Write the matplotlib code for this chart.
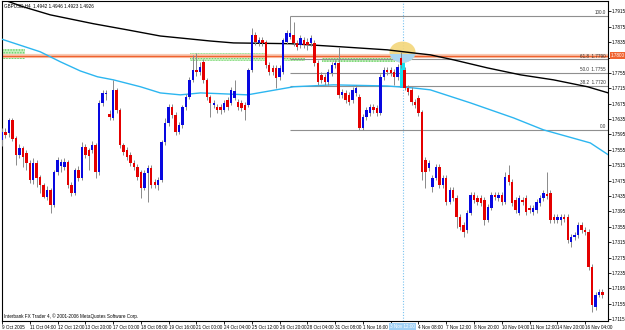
import numpy as np
import matplotlib.pyplot as plt
import matplotlib.transforms as mtransforms
from matplotlib.patches import Rectangle, Ellipse

plt.rcParams['hatch.linewidth'] = 0.6
plt.rcParams['font.family'] = ['Liberation Sans', 'DejaVu Sans']

# GBPUSD H4 candles, 9 Oct - 16 Nov 2005
opens = [1.7581, 1.7602, 1.7599, 1.7633, 1.7586, 1.7542, 1.7560, 1.7547, 1.7521, 1.7477,
         1.7521, 1.7485, 1.7464, 1.7433, 1.7451, 1.7412, 1.7498, 1.7513, 1.7511, 1.7524,
         1.7464, 1.7443, 1.7503, 1.7482, 1.7563, 1.7555, 1.7555, 1.7568, 1.7498, 1.7677,
         1.7701, 1.7649, 1.7638, 1.7711, 1.7659, 1.7568, 1.7555, 1.7542, 1.7521, 1.7511,
         1.7498, 1.7456, 1.7495, 1.7508, 1.7472, 1.7464, 1.7477, 1.7576, 1.7625, 1.7667,
         1.7646, 1.7602, 1.7620, 1.7667, 1.7693, 1.7737, 1.7763, 1.7758, 1.7784, 1.7737,
         1.7693, 1.7672, 1.7667, 1.7667, 1.7659, 1.7685, 1.7677, 1.7690, 1.7680, 1.7677,
         1.7672, 1.7672, 1.7763, 1.7854, 1.7833, 1.7841, 1.7836, 1.7776, 1.7768, 1.7768,
         1.7745, 1.7758, 1.7836, 1.7849, 1.7854, 1.7833, 1.7828, 1.7841, 1.7836, 1.7833,
         1.7833, 1.7781, 1.7750, 1.7745, 1.7732, 1.7755, 1.7776, 1.7781, 1.7698, 1.7703,
         1.7698, 1.7685, 1.7703, 1.7693, 1.7612, 1.7641, 1.7651, 1.7667, 1.7664, 1.7651,
         1.7745, 1.7763, 1.7763, 1.7758, 1.7745, 1.7794, 1.7763, 1.7716, 1.7711, 1.7680,
         1.7690, 1.7654, 1.7529, 1.7508, 1.7459, 1.7482, 1.7511, 1.7464, 1.7482, 1.7420,
         1.7451, 1.7430, 1.7381, 1.7360, 1.7347, 1.7391, 1.7438, 1.7430, 1.7430, 1.7425,
         1.7373, 1.7404, 1.7438, 1.7430, 1.7438, 1.7420, 1.7490, 1.7472, 1.7425, 1.7391,
         1.7425, 1.7430, 1.7404, 1.7394, 1.7399, 1.7417, 1.7430, 1.7441, 1.7443, 1.7381,
         1.7373, 1.7373, 1.7381, 1.7381, 1.7316, 1.7329, 1.7334, 1.7360, 1.7347, 1.7342,
         1.7251, 1.7147, 1.7178, 1.7186]
closes = [1.7602, 1.7594, 1.7633, 1.7584, 1.7542, 1.7560, 1.7537, 1.7521, 1.7477, 1.7521,
          1.7482, 1.7464, 1.7433, 1.7451, 1.7412, 1.7498, 1.7529, 1.7524, 1.7524, 1.7464,
          1.7443, 1.7503, 1.7482, 1.7563, 1.7542, 1.7539, 1.7568, 1.7498, 1.7677, 1.7703,
          1.7703, 1.7641, 1.7711, 1.7659, 1.7568, 1.7550, 1.7537, 1.7521, 1.7511, 1.7485,
          1.7456, 1.7495, 1.7508, 1.7464, 1.7464, 1.7477, 1.7576, 1.7625, 1.7667, 1.7646,
          1.7602, 1.7620, 1.7667, 1.7693, 1.7737, 1.7763, 1.7758, 1.7771, 1.7737, 1.7693,
          1.7677, 1.7677, 1.7659, 1.7659, 1.7677, 1.7667, 1.7711, 1.7708, 1.7667, 1.7664,
          1.7659, 1.7763, 1.7854, 1.7836, 1.7841, 1.7833, 1.7776, 1.7758, 1.7758, 1.7742,
          1.7768, 1.7841, 1.7859, 1.7859, 1.7833, 1.7823, 1.7846, 1.7828, 1.7828, 1.7846,
          1.7781, 1.7732, 1.7737, 1.7732, 1.7758, 1.7776, 1.7781, 1.7698, 1.7706, 1.7685,
          1.7680, 1.7711, 1.7716, 1.7612, 1.7641, 1.7659, 1.7667, 1.7659, 1.7651, 1.7745,
          1.7763, 1.7758, 1.7755, 1.7745, 1.7771, 1.7776, 1.7716, 1.7706, 1.7680, 1.7672,
          1.7651, 1.7498, 1.7498, 1.7521, 1.7482, 1.7511, 1.7464, 1.7482, 1.7420, 1.7451,
          1.7430, 1.7381, 1.7355, 1.7342, 1.7391, 1.7438, 1.7425, 1.7420, 1.7417, 1.7373,
          1.7407, 1.7438, 1.7433, 1.7438, 1.7420, 1.7485, 1.7472, 1.7417, 1.7399, 1.7430,
          1.7420, 1.7394, 1.7399, 1.7404, 1.7420, 1.7430, 1.7443, 1.7435, 1.7373, 1.7373,
          1.7381, 1.7381, 1.7376, 1.7321, 1.7329, 1.7334, 1.7360, 1.7347, 1.7342, 1.7251,
          1.7152, 1.7178, 1.7186, 1.7178]
highs = [1.7612, 1.7612, 1.7638, 1.7638, 1.7591, 1.7571, 1.7565, 1.7555, 1.7529, 1.7534,
         1.7529, 1.7490, 1.7469, 1.7461, 1.7456, 1.7503, 1.7537, 1.7532, 1.7534, 1.7529,
         1.7472, 1.7508, 1.7513, 1.7576, 1.7571, 1.7560, 1.7578, 1.7573, 1.7685, 1.7711,
         1.7711, 1.7659, 1.7737, 1.7716, 1.7664, 1.7573, 1.7563, 1.7550, 1.7529, 1.7519,
         1.7503, 1.7503, 1.7516, 1.7516, 1.7480, 1.7485, 1.7581, 1.7638, 1.7675, 1.7675,
         1.7654, 1.7628, 1.7672, 1.7701, 1.7745, 1.7802, 1.7807, 1.7784, 1.7792, 1.7742,
         1.7698, 1.7685, 1.7675, 1.7675, 1.7685, 1.7693, 1.7719, 1.7737, 1.7688, 1.7685,
         1.7680, 1.7768, 1.7872, 1.7862, 1.7849, 1.7849, 1.7841, 1.7784, 1.7776, 1.7776,
         1.7776, 1.7846, 1.7867, 1.7903, 1.7888, 1.7841, 1.7854, 1.7849, 1.7846, 1.7854,
         1.7841, 1.7789, 1.7758, 1.7753, 1.7766, 1.7784, 1.7789, 1.7823, 1.7714, 1.7711,
         1.7706, 1.7719, 1.7724, 1.7701, 1.7649, 1.7667, 1.7675, 1.7675, 1.7672, 1.7753,
         1.7771, 1.7771, 1.7771, 1.7766, 1.7779, 1.7810, 1.7771, 1.7724, 1.7719, 1.7688,
         1.7698, 1.7659, 1.7537, 1.7529, 1.7490, 1.7519, 1.7519, 1.7490, 1.7490, 1.7459,
         1.7459, 1.7438, 1.7389, 1.7368, 1.7399, 1.7446, 1.7446, 1.7438, 1.7438, 1.7433,
         1.7415, 1.7446, 1.7446, 1.7446, 1.7446, 1.7498, 1.7516, 1.7480, 1.7433, 1.7438,
         1.7433, 1.7438, 1.7412, 1.7412, 1.7428, 1.7438, 1.7451, 1.7498, 1.7451, 1.7389,
         1.7389, 1.7389, 1.7389, 1.7389, 1.7337, 1.7342, 1.7368, 1.7368, 1.7355, 1.7350,
         1.7259, 1.7186, 1.7194, 1.7194]
lows = [1.7565, 1.7586, 1.7589, 1.7578, 1.7516, 1.7534, 1.7511, 1.7503, 1.7469, 1.7467,
        1.7459, 1.7443, 1.7430, 1.7425, 1.7391, 1.7407, 1.7490, 1.7498, 1.7503, 1.7456,
        1.7435, 1.7438, 1.7474, 1.7477, 1.7534, 1.7503, 1.7547, 1.7482, 1.7490, 1.7669,
        1.7685, 1.7633, 1.7633, 1.7651, 1.7560, 1.7542, 1.7529, 1.7513, 1.7503, 1.7477,
        1.7430, 1.7451, 1.7420, 1.7456, 1.7456, 1.7451, 1.7472, 1.7568, 1.7617, 1.7638,
        1.7594, 1.7597, 1.7612, 1.7659, 1.7688, 1.7732, 1.7747, 1.7750, 1.7729, 1.7685,
        1.7641, 1.7664, 1.7651, 1.7649, 1.7654, 1.7659, 1.7672, 1.7685, 1.7659, 1.7656,
        1.7633, 1.7667, 1.7758, 1.7828, 1.7825, 1.7825, 1.7768, 1.7750, 1.7750, 1.7716,
        1.7737, 1.7753, 1.7831, 1.7844, 1.7825, 1.7815, 1.7820, 1.7820, 1.7815, 1.7825,
        1.7773, 1.7724, 1.7729, 1.7724, 1.7724, 1.7747, 1.7768, 1.7690, 1.7690, 1.7677,
        1.7672, 1.7677, 1.7695, 1.7607, 1.7607, 1.7633, 1.7643, 1.7651, 1.7643, 1.7646,
        1.7737, 1.7750, 1.7747, 1.7724, 1.7737, 1.7768, 1.7711, 1.7698, 1.7672, 1.7664,
        1.7643, 1.7477, 1.7456, 1.7500, 1.7446, 1.7477, 1.7456, 1.7456, 1.7412, 1.7415,
        1.7422, 1.7352, 1.7347, 1.7329, 1.7339, 1.7386, 1.7417, 1.7412, 1.7409, 1.7360,
        1.7368, 1.7399, 1.7425, 1.7422, 1.7412, 1.7415, 1.7464, 1.7409, 1.7391, 1.7386,
        1.7412, 1.7386, 1.7391, 1.7386, 1.7391, 1.7409, 1.7422, 1.7428, 1.7365, 1.7365,
        1.7365, 1.7360, 1.7368, 1.7313, 1.7303, 1.7321, 1.7326, 1.7339, 1.7334, 1.7243,
        1.7134, 1.7139, 1.7173, 1.7170]

# moving averages (bar index, price) read at intervals
ma_slow_x = [-0.5, 6.1, 13.9, 26.3, 36.1, 45.6, 53.4, 60.0, 66.7, 83.1, 97.5, 111.0,
             118.5, 123.4, 130.1, 139.9, 149.4, 158.9, 168.7, 174.7]
ma_slow_y = [1.7948, 1.7927, 1.7906, 1.7883, 1.7867, 1.7851, 1.7844, 1.7838, 1.7833, 1.7831,
             1.7823, 1.7815, 1.7807, 1.7802, 1.7789, 1.7768, 1.7750, 1.7737, 1.7719, 1.7703]
ma_fast_x = [-0.5, 11.0, 16.8, 22.6, 27.5, 32.1, 39.9, 45.6, 51.4, 57.2, 62.9, 70.7, 84.0,
             95.5, 111.0, 118.5, 123.4, 135.0, 147.4, 156.0, 169.5, 174.7]
ma_fast_y = [1.7844, 1.7810, 1.7784, 1.7760, 1.7745, 1.7737, 1.7719, 1.7703, 1.7698, 1.7703,
             1.7701, 1.7698, 1.7719, 1.7724, 1.7721, 1.7716, 1.7711, 1.7677, 1.7638, 1.7607,
             1.7573, 1.7542]

fib_ratios = ['0.0', '38.2', '50.0', '61.8', '100.0']
fib_prices = [1.7607, 1.7720, 1.7755, 1.7790, 1.7903]
fib_start = 83

hline_price = 1.7800
green_zones = [(0, 6.7, 1.7790, 1.7818), (54.3, 75.9, 1.7786, 1.7808),
               (80.8, 87.4, 1.7786, 1.7800), (92.3, 113.3, 1.7784, 1.7800)]

xtick_labels = ['9 Oct 2005', '11 Oct 04:00', '12 Oct 12:00', '13 Oct 20:00', '17 Oct 00:00',
                '18 Oct 08:00', '19 Oct 16:00', '21 Oct 00:00', '24 Oct 04:00', '25 Oct 12:00',
                '26 Oct 20:00', '28 Oct 04:00', '31 Oct 08:00', '1 Nov 16:00', '',
                '4 Nov 08:00', '7 Nov 12:00', '8 Nov 20:00', '10 Nov 04:00', '11 Nov 12:00',
                '14 Nov 20:00', '16 Nov 04:00']
vline_bar = 115.4
vline_label = '3 Nov 12:00'

FS = 3.3

fig = plt.figure(figsize=(6.25, 3.3), dpi=100)
ax = fig.add_axes([2 / 625, 9 / 330, 606 / 625, 320 / 330])
ax.set_xlim(0, 174.6)
ax.set_ylim(1.7110, 1.7942)

# green zones
for x0, x1, y0, y1 in green_zones:
    ax.add_patch(Rectangle((x0, y0), x1 - x0, y1 - y0, facecolor='#c4efbd',
                           edgecolor='#62cf62', hatch='......', lw=0, zorder=1))

# horizontal orange line
ax.axhline(hline_price, color='#f8cbb6', lw=3, zorder=1.5)
ax.axhline(hline_price, color='#f0622e', lw=1, zorder=1.6)

# fibonacci levels
ax.hlines(fib_prices, fib_start, 174.6, color='#8f8f8f', lw=0.8, zorder=1.7)
for r, p in zip(fib_ratios, fib_prices):
    txt = r if r in ('0.0', '100.0') else f'{r}  {p:.4f}'
    ax.text(174.0, p + 0.00025, txt, ha='right', va='bottom', fontsize=FS, color='#333333', zorder=6)

# vertical line and highlight
ax.axvline(vline_bar, color='#79c3f0', lw=0.8, ls=(0, (1, 1.5)), zorder=1.8)
ax.add_patch(Rectangle((114.6, 1.7716), 1.6, 0.0068, facecolor='#18e2ef', lw=0, zorder=2))
circ = Ellipse((vline_bar, 1.7809), 7.5, 0.0055, facecolor='#f3d67a', lw=0, alpha=0.9, zorder=2.2)
ax.add_patch(circ)
blue_part = Rectangle((110, 1.7781), 11, 0.0024, facecolor='#aad6f0', lw=0, zorder=2.3)
ax.add_patch(blue_part)
blue_part.set_clip_path(circ)

# moving averages
ax.plot(ma_slow_x, ma_slow_y, color='black', lw=1.0, zorder=3)
ax.plot(ma_fast_x, ma_fast_y, color='#2cb6f0', lw=1.0, zorder=3)

# candles
o = np.array(opens)
c = np.array(closes)
bars = np.arange(len(o))
up = c >= o
ax.vlines(bars, lows, highs, color='#8a8a8a', lw=0.7, zorder=4)
bottom = np.minimum(o, c)
height = np.maximum(np.abs(c - o), 0.00012)
ax.bar(bars, height, bottom=bottom, width=0.7, color=np.where(up, '#0808e0', '#e40000'),
       linewidth=0, zorder=5)

# axes styling
for s in ax.spines.values():
    s.set_color('black')
    s.set_linewidth(0.8)
ax.yaxis.tick_right()
yt = np.round(np.arange(1.7115, 1.7916, 0.004), 4)
ax.set_yticks(yt)
# the 1.7795 label sits under the orange price box, so leave it blank
ax.set_yticklabels(['' if abs(v - hline_price) < 0.001 else f'{v:.4f}' for v in yt])
ax.tick_params(axis='y', length=2, width=0.6, labelsize=FS, pad=0.8)

xt = list(range(0, 169, 8))
ax.set_xticks(xt)
ax.set_xticklabels(xtick_labels)
ax.tick_params(axis='x', length=2, width=0.6, labelsize=FS, pad=0.8)
for lbl in ax.get_xticklabels():
    lbl.set_ha('left')

trans_x = mtransforms.blended_transform_factory(ax.transData, ax.transAxes)
ax.text(vline_bar, -0.009, vline_label, transform=trans_x, ha='center', va='top', fontsize=FS,
        color='white', bbox=dict(facecolor='#9fd0f5', edgecolor='none', pad=1.0), clip_on=False)

trans_y = mtransforms.blended_transform_factory(ax.transAxes, ax.transData)
ax.text(1.0045, hline_price, f'{hline_price:.4f}', transform=trans_y, ha='left', va='center',
        fontsize=FS, color='white', bbox=dict(facecolor='#f0622e', edgecolor='none', pad=0.8),
        clip_on=False, zorder=10)

ax.text(0.004, 0.994, 'GBPUSD,H4  1.4942 1.4946 1.4923 1.4926', transform=ax.transAxes,
        ha='left', va='top', fontsize=FS, color='black')
ax.text(0.004, 0.007, 'Interbank FX Trader 4, \u00a9 2001-2006 MetaQuotes Software Corp.',
        transform=ax.transAxes, ha='left', va='bottom', fontsize=FS, color='black')

fig.savefig('out.png', dpi=100)
